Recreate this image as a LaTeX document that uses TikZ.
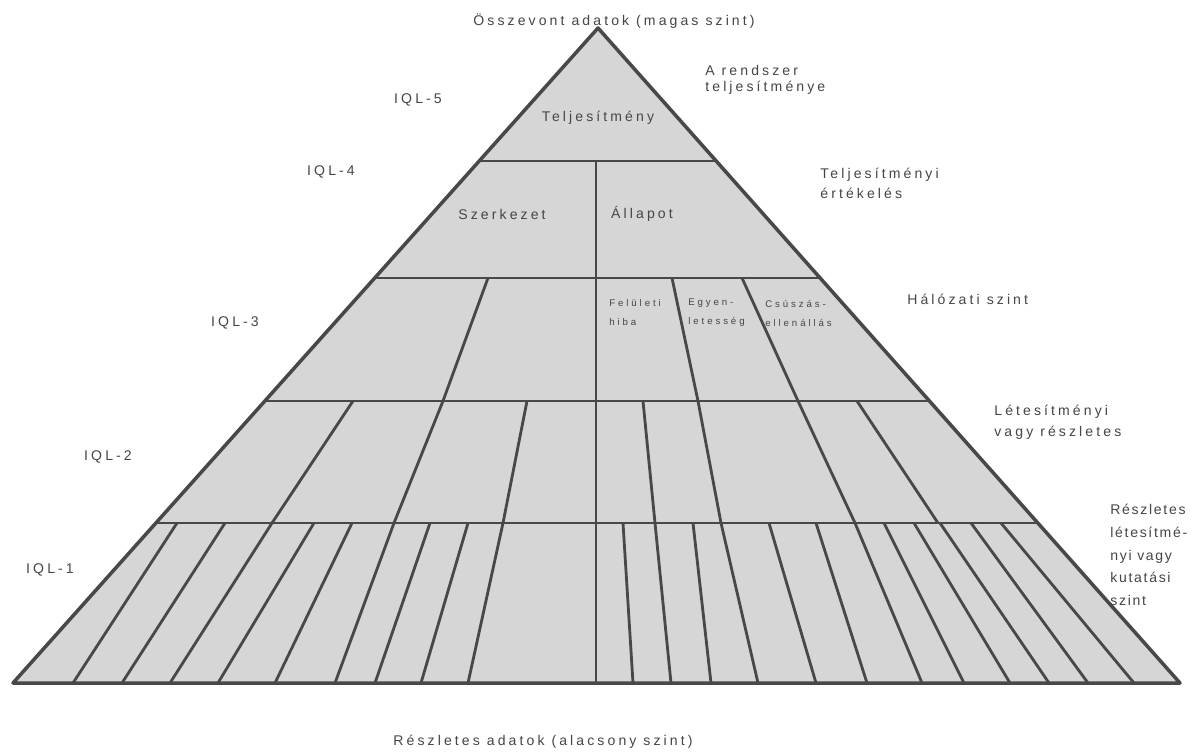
\documentclass[tikz,border=0pt]{standalone}
\usepackage{fontspec}
\setmainfont{Liberation Sans}[LetterSpace=22]
\newfontfamily\cellfam{Liberation Sans}[LetterSpace=30]
\newfontfamily\narrowfam{Liberation Sans}[LetterSpace=12]
\usetikzlibrary{calc}
\definecolor{lc}{RGB}{72,72,72}
\definecolor{fillc}{RGB}{214,214,214}
\definecolor{tc}{RGB}{70,70,70}
\begin{document}
\begin{tikzpicture}[x=0.02cm,y=-0.02cm,
  edge/.style={draw=lc, line width=1.6pt},
  side/.style={draw=lc, line width=2pt, line join=round},
  lbl/.style={text=tc, font=\fontsize{8}{9}\selectfont, inner sep=0pt},
  cell/.style={text=tc, font=\cellfam\fontsize{5.5}{10.8}\selectfont, inner sep=0pt, anchor=west, align=left}]
\useasboundingbox[fill=white] (0,0) rectangle (1197,754);
\coordinate (A) at (598,28);
\coordinate (BL) at (13,683);
\coordinate (BR) at (1180,683);
\fill[fillc] (A) -- (BL) -- (BR) -- cycle;
% cell texts (under the lines)
\node[cell] (fel) at (609,313) {Felületi\\hiba};
\node[cell] (egy) at (688,313) {Egyen-\\letesség};
\node[cell] (csu) at (765,313) {Csúszás-\\ellenállás};
% level lines
\foreach \t/\n in {0.2031/a,0.3817/b,0.5695/c,0.7557/d}{
  \coordinate (L\n) at ($(A)!\t!(BL)$);
  \coordinate (R\n) at ($(A)!\t!(BR)$);
  \draw[edge] (L\n) -- (R\n);
}
\draw[edge] (596,161) -- (596,683);
% IQL-3 row
\foreach \a/\b in {488/443,672/698,742/798}
  \draw[edge] (\a,278) -- (\b,401);
% IQL-2 row
\foreach \a/\b in {353/272,443/394,527/503,643/655,698/721,798/855,857/938}
  \draw[edge] (\a,401) -- (\b,523);
% IQL-1 row
\foreach \a/\b in {177/73,225/122,272/170,314/218,352/275,394/335,430/375,468/421,503/468,
  623/633,655/671,693/711,721/758,769/816,816/867,855/922,884/964,914/1010,940/1049,971/1088,1001/1134}
  \draw[edge] (\a,523) -- (\b,683);
\draw[side] (A) -- (BL) -- (BR) -- cycle;
% labels
\node[lbl] (top) at (614,21) {Összevont adatok (magas szint)};
\node[lbl, anchor=west, align=left, font=\fontsize{8}{9.5}\selectfont] (rsz) at (705,80) {A rendszer\\teljesítménye};
\node[lbl] (q5) at (418,100) {IQL-5};
\node[lbl] (telj) at (598,118) {Teljesítmény};
\node[lbl] (q4) at (331,172) {IQL-4};
\node[lbl] (szk) at (502,214) {Szerkezet};
\node[lbl] (all) at (642,214) {Állapot};
\node[lbl, anchor=west, align=left, font=\fontsize{8}{11.3}\selectfont] (tert) at (820,183) {Teljesítményi\\értékelés};
\node[lbl] (q3) at (235,323) {IQL-3};
\node[lbl, anchor=west] (hal) at (907,299) {Hálózati szint};
\node[lbl] (q2) at (108,457) {IQL-2};
\node[lbl, anchor=west, align=left, font=\fontsize{8}{12}\selectfont] (let) at (994,422) {Létesítményi\\vagy részletes};
\node[lbl] (q1) at (50,570) {IQL-1};
\node[lbl, anchor=west, align=left, font=\narrowfam\fontsize{8}{12.9}\selectfont] (resz) at (1110,555) {Részletes\\létesítmé-\\nyi vagy\\kutatási\\szint};
\node[lbl] (bot) at (543,742) {Részletes adatok (alacsony szint)};
\end{tikzpicture}
\end{document}
